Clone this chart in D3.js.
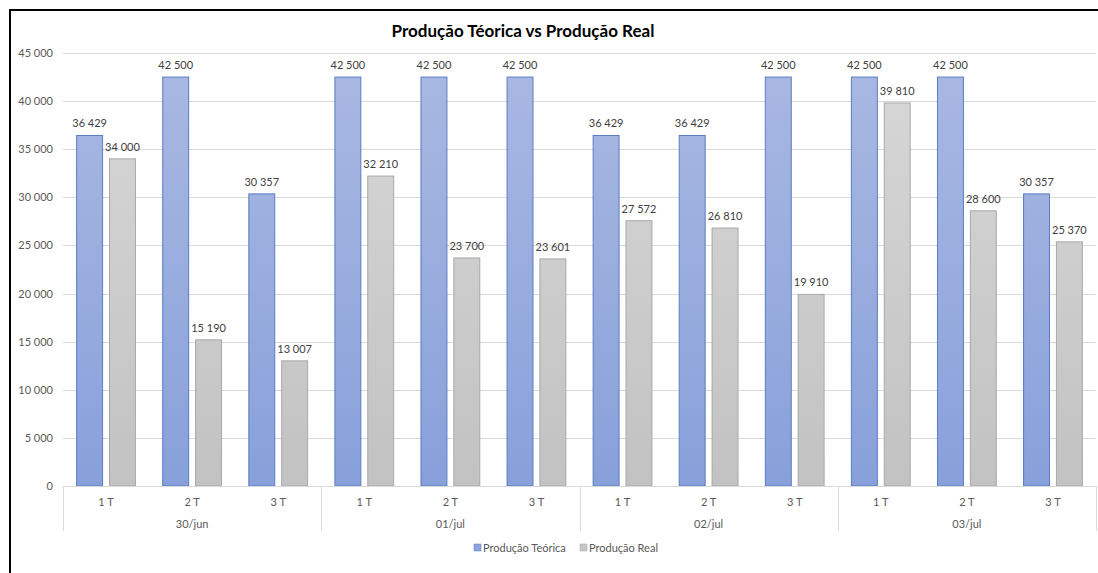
<!DOCTYPE html>
<html><head><meta charset="utf-8">
<script src="https://cdn.jsdelivr.net/npm/d3@7"></script>
<style>body{margin:0;background:#fff;}svg{display:block;font-family:Lato,"Open Sans",sans-serif;}</style>
</head><body>
<svg id="c" width="1098" height="573"></svg>
<script>
const dates = ["30/jun","01/jul","02/jul","03/jul"];
const shifts = ["1 T","2 T","3 T"];
const teorica = [36429,42500,30357, 42500,42500,42500, 36429,36429,42500, 42500,42500,30357];
const real = [34000,15190,13007, 32210,23700,23601, 27572,26810,19910, 39810,28600,25370];
const yTicks = [0,5000,10000,15000,20000,25000,30000,35000,40000,45000];
const seriesNames = ["Produção Teórica","Produção Real"];

const svg = d3.select("#c");
const fmt = v => d3.format(",")(v).replace(/,/g," ");
const cats = [];
dates.forEach(d => shifts.forEach(s => cats.push(d + "|" + s)));

const pLeft = 63, pRight = 1096, pTop = 53, pBottom = 486;
const x = d3.scaleBand().domain(cats).range([pLeft, pRight]).paddingInner(0).paddingOuter(0);
const y = d3.scaleLinear().domain([0,45000]).range([pBottom, pTop]);
const sub = d3.scaleBand().domain([0,1]).range([0, x.bandwidth()]).paddingInner(0.18).paddingOuter(0.4);

const defs = svg.append("defs");
const gb = defs.append("linearGradient").attr("id","gBlue").attr("gradientUnits","userSpaceOnUse")
  .attr("x1",0).attr("y1",pTop).attr("x2",0).attr("y2",pBottom);
gb.append("stop").attr("offset","0").attr("stop-color","#aab9e2");
gb.append("stop").attr("offset","1").attr("stop-color","#88a0da");
const gg = defs.append("linearGradient").attr("id","gGray").attr("gradientUnits","userSpaceOnUse")
  .attr("x1",0).attr("y1",pTop).attr("x2",0).attr("y2",pBottom);
gg.append("stop").attr("offset","0").attr("stop-color","#d8d8d8");
gg.append("stop").attr("offset","1").attr("stop-color","#c2c2c2");

// frame
svg.append("rect").attr("x",10).attr("y",10).attr("width",1096).attr("height",600).attr("fill","none").attr("stroke","#000").attr("stroke-width",2);

// title
svg.append("text").attr("x",523).attr("y",37).attr("text-anchor","middle").attr("font-size",17).attr("font-weight","bold").attr("fill","#000").text("Produção Téorica vs Produção Real");

// grid
svg.append("g").selectAll("line").data(yTicks.filter(t=>t>0)).join("line")
  .attr("x1",pLeft).attr("x2",pRight).attr("y1",d=>Math.round(y(d))+0.5).attr("y2",d=>Math.round(y(d))+0.5)
  .attr("stroke","#d9d9d9").attr("stroke-width",1);

// y axis
const ya = svg.append("g").attr("transform",`translate(${pLeft},0)`).call(d3.axisLeft(y).tickValues(yTicks).tickFormat(fmt).tickSize(0).tickPadding(10));
ya.select(".domain").remove();
ya.selectAll("text").attr("font-family","Lato,'Open Sans',sans-serif").attr("font-size",11).attr("fill","#595959");

// bars
const bars = svg.append("g");
cats.forEach((c,i) => {
  [teorica[i], real[i]].forEach((v,k) => {
    const bx = x(c) + sub(k);
    bars.append("rect").attr("x",bx+0.5).attr("y",y(v)).attr("width",sub.bandwidth()-1).attr("height",pBottom-y(v))
      .attr("fill", k===0 ? "url(#gBlue)" : "url(#gGray)")
      .attr("stroke", k===0 ? "#5a7cc4" : "#a8a8a8").attr("stroke-width",1);
    bars.append("text").attr("x",bx+sub.bandwidth()/2).attr("y",y(v)-8).attr("text-anchor","middle")
      .attr("font-size",11).attr("fill","#404040").text(fmt(v));
  });
});

// x axis
const xa = svg.append("g");
xa.append("line").attr("x1",pLeft).attr("x2",pRight).attr("y1",pBottom+0.5).attr("y2",pBottom+0.5).attr("stroke","#d9d9d9");
const sepXs = dates.map((d,i)=>x(d+"|1 T")).concat([pRight]);
xa.selectAll("line.sep").data(sepXs).join("line").attr("class","sep")
  .attr("x1",d=>Math.round(d)+0.5).attr("x2",d=>Math.round(d)+0.5).attr("y1",pBottom).attr("y2",531).attr("stroke","#d9d9d9");
xa.selectAll("text.cat").data(cats).join("text").attr("class","cat")
  .attr("x",d=>x(d)+x.bandwidth()/2).attr("y",506).attr("text-anchor","middle").attr("font-size",11).attr("fill","#595959")
  .text(d=>d.split("|")[1]);
xa.selectAll("text.date").data(dates).join("text").attr("class","date")
  .attr("x",d=>x(d+"|2 T")+x.bandwidth()/2).attr("y",528).attr("text-anchor","middle").attr("font-size",11).attr("fill","#595959")
  .text(d=>d);

// legend
const lg = svg.append("g");
const lx = [474, 580];
seriesNames.forEach((n,k)=>{
  lg.append("rect").attr("x",lx[k]).attr("y",544).attr("width",7).attr("height",7)
    .attr("fill", k===0 ? "#8ea5dc" : "#c6c6c6").attr("stroke", k===0 ? "#5a7cc4" : "#a8a8a8").attr("stroke-width",0.5);
  lg.append("text").attr("x",lx[k]+9).attr("y",552).attr("font-size",11).attr("fill","#595959").text(n);
});
</script>
</body></html>
